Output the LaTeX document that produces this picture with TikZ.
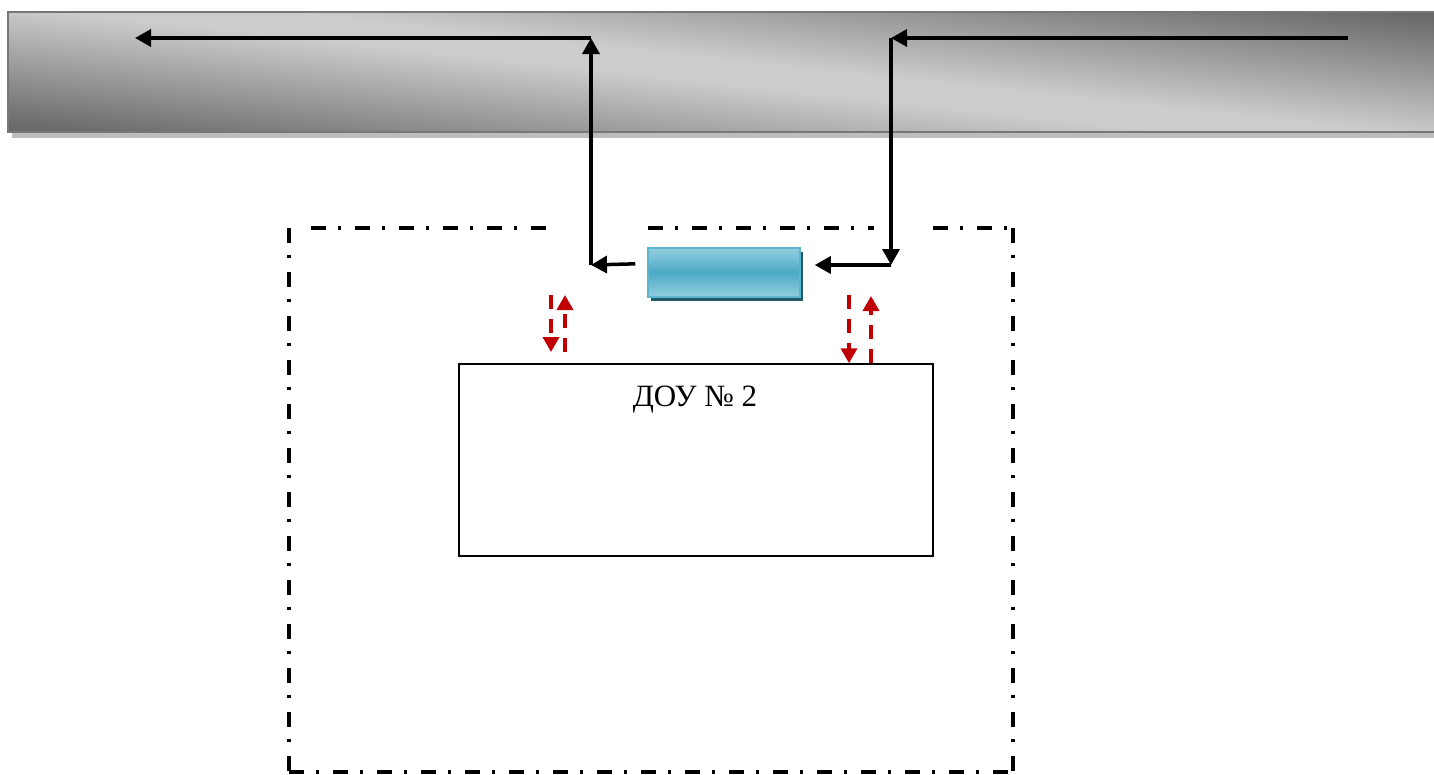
\documentclass[tikz,border=0pt]{standalone}
\usepackage{fontspec}
\setmainfont{Liberation Serif}
\usetikzlibrary{arrows.meta,shadows}

\definecolor{bandedge}{HTML}{777777}
\definecolor{bandshadow}{HTML}{BDBDBD}
\definecolor{hublight}{HTML}{93CFDF}
\definecolor{hubmid}{HTML}{4CA9C5}
\definecolor{hubedge}{HTML}{5BB5CF}
\definecolor{hubshadow}{HTML}{215B6B}
\definecolor{linkred}{HTML}{C00000}

% dark at bottom-left and top-right, light elsewhere
\pgfdeclarefunctionalshading{bandshade}{\pgfpoint{0bp}{0bp}}{\pgfpoint{100bp}{100bp}}{}{
  25 sub 50 div exch 25 sub 50 div 1.3 mul add
  dup 1.05 exch sub dup 0 lt {pop 0} if
  exch 1.25 sub dup 0 lt {pop 0} if add
  dup 1 gt {pop 1} if
  0.39 mul 0.80 exch sub
  dup dup
}

\begin{document}
\begin{tikzpicture}[x=1pt,y=-1pt]
    %
    % `flow' is used for the black arrows, `reddash' for the red ones.
    % `frame' is the dash-dot border round the yard.
    \tikzstyle{band} = [shading=bandshade,draw=bandedge,line width=2pt,minimum width=1442pt,minimum height=120pt,inner sep=0pt]
    \tikzstyle{hub} = [draw=hubedge,line width=1.5pt,top color=hublight,bottom color=hublight,middle color=hubmid,minimum width=152pt,minimum height=49pt,inner sep=0pt,drop shadow={fill=hubshadow,opacity=1,shadow xshift=3pt,shadow yshift=-4pt}]
    \tikzstyle{doubox} = [draw,line width=1.5pt,minimum width=474pt,minimum height=192pt,inner sep=0pt]
    \tikzstyle{flow} = [line width=3.5pt,-{Triangle[length=16pt,width=17pt]}]
    \tikzstyle{reddash} = [draw=linkred,line width=3.5pt,dash pattern=on 14pt off 10pt,-{Triangle[length=15pt,width=16pt]}]
    \tikzstyle{frame} = [line width=4pt,dash pattern=on 15pt off 12pt on 3pt off 14pt]
    %
    \useasboundingbox (0,0) rectangle (1434,774);
    %
    % Top band
    \fill[bandshadow] (12,130) rectangle (1450,138);
    \node[band] (band) at (729,72) {};
    %
    % Dash-dot frame
    \draw[frame] (289,228) -- (289,774);
    \draw[frame] (311,228) -- (548,228);
    \draw[frame] (648,228) -- (874,228);
    \draw[frame] (933,228) -- (1013,228);
    \draw[frame] (1013,228) -- (1013,774);
    \draw[frame] (289,772) -- (1013,772);
    %
    % Boxes
    \node[hub] (hub) at (724,272.5) {};
    \node[doubox] (dou) at (696,460) {};
    \node[font=\fontsize{31}{36}\selectfont,anchor=base] (doutitle) at (695,406) {ДОУ № 2};
    %
    % Left route
    \coordinate (lcorner) at (591,265);
    \coordinate (ltop) at (591,38);
    \coordinate (lend) at (135,38);
    \draw[flow,shorten <=12pt] ([yshift=9pt]hub.west) -- (lcorner);
    \draw[flow] (lcorner) -- (ltop);
    \draw[flow] (ltop) -- (lend);
    %
    % Right route
    \coordinate (rstart) at (1348,38);
    \coordinate (rtop) at (891,38);
    \coordinate (rcorner) at (891,265);
    \draw[flow] (rstart) -- (rtop);
    \draw[flow] (rtop) -- (rcorner);
    \draw[flow,shorten >=14pt] (rcorner) -- (hub.east |- rcorner);
    %
    % Red links
    \coordinate (la) at (551,295);
    \coordinate (lb) at (565,352);
    \coordinate (ra) at (849,295);
    \coordinate (rb) at (871,296);
    \draw[reddash] (la) -- (la |- lb);
    \draw[reddash] (lb) -- (lb |- la);
    \draw[reddash] (ra) -- (ra |- dou.north);
    \draw[reddash] (rb |- dou.north) -- (rb);
    %
\end{tikzpicture}
\end{document}
